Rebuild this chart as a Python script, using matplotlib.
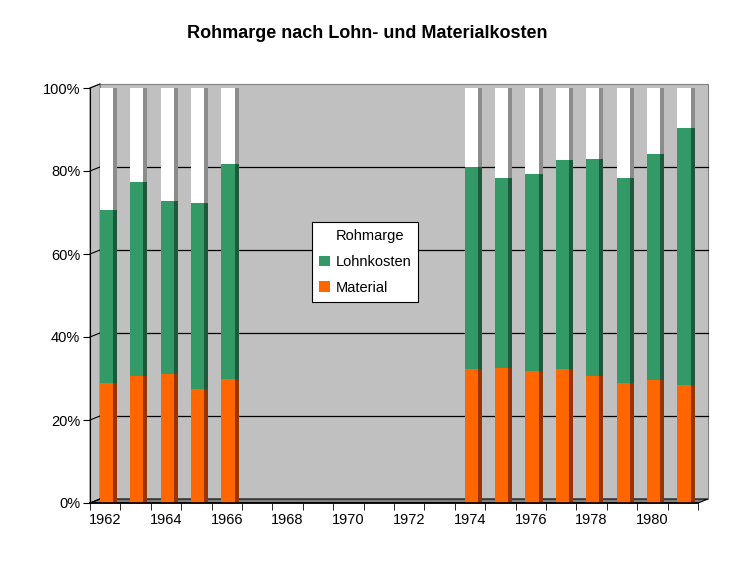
import numpy as np
import matplotlib
matplotlib.use("Agg")
import matplotlib.pyplot as plt
from matplotlib.patches import Polygon, Rectangle

plt.rcParams['font.family'] = ['Liberation Sans', 'DejaVu Sans']

years = list(range(1962, 1982))
material = [29.0, 30.6, 31.0, 27.5, 30.0, 0, 0, 0, 0, 0, 0, 0,
            32.4, 32.6, 31.9, 32.4, 30.6, 29.0, 29.6, 28.5]
lohnkosten_top = [70.6, 77.3, 72.8, 72.3, 81.7, 0, 0, 0, 0, 0, 0, 0,
                  81.0, 78.4, 79.3, 82.7, 83.0, 78.4, 84.2, 90.4]
has_data = [m > 0 for m in material]

material = np.array(material) / 100
lohnkosten = np.array(lohnkosten_top) / 100 - material
rohmarge = np.where(has_data, 1 - material - lohnkosten, 0)

fig = plt.figure(figsize=(7.34, 5.61), dpi=100)
ax = fig.add_axes([90 / 734, 58 / 561, 608 / 734, 415 / 561])
ax.set_facecolor('none')
ax.set_xlim(-0.5, 19.5)
ax.set_ylim(0, 1)

# 3D-ish walls
dx, dy = 10 / 608, 4 / 415
ax.add_patch(Rectangle((dx, dy), 1, 1, transform=ax.transAxes, facecolor='#c0c0c0',
                       edgecolor='#808080', lw=0.8, zorder=0, clip_on=False))
ax.add_patch(Polygon([(0, 0), (0, 1), (dx, 1 + dy), (dx, dy)], transform=ax.transAxes,
                     facecolor='#c0c0c0', edgecolor='#808080', lw=0.8, zorder=0.5, clip_on=False))
ax.add_patch(Polygon([(0, 0), (1, 0), (1 + dx, dy), (dx, dy)], transform=ax.transAxes,
                     facecolor='#808080', edgecolor='black', lw=0.8, zorder=0.5, clip_on=False))

yticks = np.arange(0, 1.01, 0.2)
for yv in yticks:
    if 0 < yv < 0.99:
        ax.plot([dx, 1 + dx], [yv + dy, yv + dy], transform=ax.transAxes, color='black',
                lw=0.9, zorder=1, clip_on=False)
    ax.plot([0, dx], [yv, yv + dy], transform=ax.transAxes, color='black',
            lw=0.8, zorder=1, clip_on=False)

x = np.arange(len(years))
xf = x + 0.04
w = 0.43
sx = xf + w / 2 + 0.065
sw = 0.13

b1 = ax.bar(xf, material, w, color='#ff6600', zorder=3, label='Material')
b2 = ax.bar(xf, lohnkosten, w, bottom=material, color='#339966', zorder=3, label='Lohnkosten')
b3 = ax.bar(xf, rohmarge, w, bottom=material + lohnkosten, color='white', zorder=3, label='Rohmarge')
ax.bar(sx, material, sw, color='#993300', zorder=3)
ax.bar(sx, lohnkosten, sw, bottom=material, color='#1d5a3b', zorder=3)
ax.bar(sx, rohmarge, sw, bottom=material + lohnkosten, color='#8c8c8c', zorder=3)

for s in ['top', 'right']:
    ax.spines[s].set_visible(False)
ax.spines['left'].set_zorder(5)
ax.spines['bottom'].set_zorder(5)
ax.spines['bottom'].set_linewidth(1.2)

ax.set_yticks(yticks)
ax.set_yticklabels([f'{int(round(v * 100))}%' for v in yticks], fontsize=10.5)
ax.tick_params(axis='y', length=5, direction='out', pad=2)

ax.set_xticks(x[::2])
ax.set_xticklabels([str(y) for y in years[::2]], fontsize=10.5)
ax.set_xticks(np.arange(-0.5, 20, 1), minor=True)
ax.tick_params(axis='x', which='major', length=0, pad=7)
ax.tick_params(axis='x', which='minor', length=5, direction='out')

leg = ax.legend(handles=[b3, b2, b1], loc='upper left', bbox_to_anchor=(312 / 734, 1 - 222 / 561),
                bbox_transform=fig.transFigure, fontsize=10.5, fancybox=False, framealpha=1,
                edgecolor='black', handlelength=0.7, handleheight=0.7, handletextpad=0.4,
                borderpad=0.5, labelspacing=0.8, borderaxespad=0)
leg.get_frame().set_linewidth(0.8)
leg.set_zorder(10)

fig.text(367 / 734, 1 - 33 / 561, 'Rohmarge nach Lohn- und Materialkosten', ha='center',
         va='center', fontsize=13, fontweight='bold')

fig.savefig('out.png', dpi=100)
